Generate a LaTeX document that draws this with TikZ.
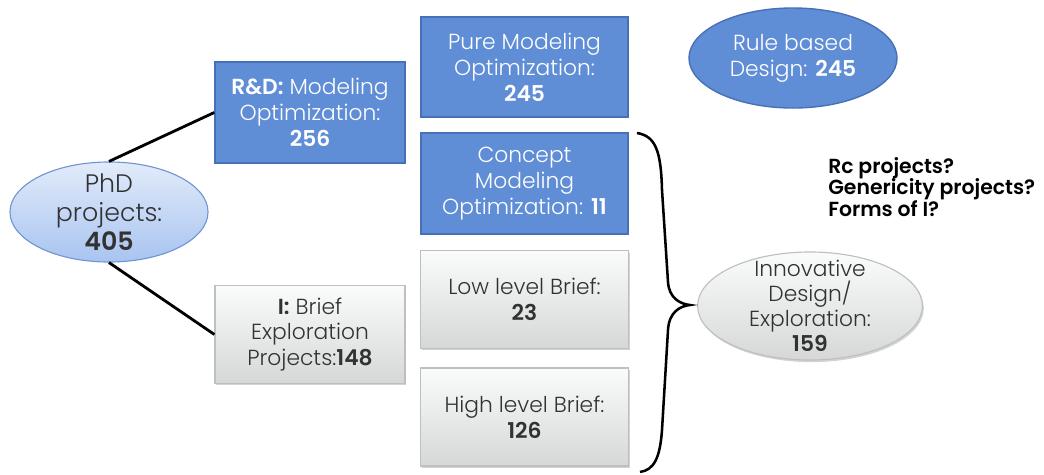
\documentclass[tikz,border=0pt]{standalone}
\usepackage{fontspec}
\setmainfont{Poppins}[UprightFont={* Light}, BoldFont={* SemiBold}]
\usetikzlibrary{shapes.geometric,shadows}

\definecolor{boxblue}{RGB}{96,142,214}
\definecolor{boxblueedge}{RGB}{72,112,182}
\definecolor{ovaltop}{RGB}{226,235,250}
\definecolor{ovalbot}{RGB}{168,196,240}
\definecolor{ovaledge}{RGB}{112,150,210}
\definecolor{greytop}{RGB}{250,251,251}
\definecolor{greybot}{RGB}{214,216,216}
\definecolor{greyedge}{RGB}{190,192,192}
\definecolor{darktext}{RGB}{50,50,50}

\begin{document}
\begin{tikzpicture}[
  x=0.025cm, y=-0.025cm,
  bluebox/.style={
    draw=boxblueedge, line width=1pt, fill=boxblue, rectangle,
    text=white, align=center, inner sep=0pt,
    font=\fontsize{15.5}{18.4}\selectfont
  },
  greybox/.style={
    draw=greyedge, line width=0.8pt, rectangle,
    top color=greytop, bottom color=greybot,
    drop shadow={shadow xshift=1pt, shadow yshift=-1.5pt, opacity=0.35},
    text=darktext, align=center, inner sep=0pt,
    font=\fontsize{15.5}{18.4}\selectfont
  },
  blueoval/.style={
    draw=boxblueedge, line width=1pt, fill=boxblue, ellipse,
    text=white, align=center, inner sep=-10pt,
    font=\fontsize{15.5}{18.4}\selectfont
  },
  greyoval/.style={
    draw=greyedge, line width=0.8pt, ellipse,
    top color=greytop, bottom color=greybot,
    drop shadow={shadow xshift=1pt, shadow yshift=-1.5pt, opacity=0.35},
    text=darktext, align=center, inner sep=-10pt,
    font=\fontsize{15.5}{17.8}\selectfont
  },
  phdoval/.style={
    draw=ovaledge, line width=0.8pt, ellipse,
    top color=ovaltop, bottom color=ovalbot,
    text=darktext, align=center, inner sep=-10pt,
    font=\fontsize{18}{20.6}\selectfont
  },
  link/.style={line width=2pt, black},
  bracket/.style={line width=1.8pt, black},
]
\useasboundingbox (0,0) rectangle (1044,474);
\node[phdoval, minimum width=4.95cm, minimum height=2.5cm] (phd) at (109,212)
  {PhD\\projects:\\\textbf{405}};
\node[bluebox, minimum width=4.75cm, minimum height=2.52cm] (rnd) at (310,112.5)
  {\textbf{R\&D:} Modeling\\Optimization:\\\textbf{256}};
\node[greybox, minimum width=4.75cm, minimum height=2.43cm] (brief) at (310,334.5)
  {\textbf{I:} Brief\\Exploration\\Projects:\textbf{148}};
\node[bluebox, minimum width=5.18cm, minimum height=2.5cm] (pure) at (524.5,67)
  {Pure Modeling\\Optimization:\\\textbf{245}};
\node[bluebox, minimum width=5.18cm, minimum height=2.52cm] (concept) at (524.5,183.5)
  {Concept\\Modeling\\Optimization: \textbf{11}};
\node[greybox, minimum width=5.18cm, minimum height=2.43cm] (low) at (524.5,299.5)
  {Low level Brief:\\\textbf{23}};
\node[greybox, minimum width=5.18cm, minimum height=2.45cm] (high) at (524.5,417)
  {High level Brief:\\\textbf{126}};
\node[blueoval, minimum width=5.2cm, minimum height=2.5cm] (rule) at (793,58)
  {Rule based\\Design: \textbf{245}};
\node[greyoval, minimum width=5.62cm, minimum height=2.7cm] (innov) at (810,306)
  {Innovative\\Design/\\Exploration:\\\textbf{159}};
\node[anchor=west, align=left, inner sep=0pt, font=\fontsize{14.5}{15.4}\selectfont\bfseries]
  (quest) at (828,187) {Rc projects?\\Genericity projects?\\Forms of I?};
% connectors
\draw[link] (phd.north) -- (rnd.west);
\draw[link] (phd.south) -- (brief.west);
% brace grouping the lower column
\coordinate (btop) at (637,133);
\coordinate (btip) at (690,305);
\coordinate (bbot) at (640,472);
\draw[bracket] (btop) .. controls (656,136) and (661,152) .. (662,190)
  -- (668,282) .. controls (669,298) and (680,304) .. (btip)
  .. controls (680,306) and (669,312) .. (668,330)
  -- (662,430) .. controls (660,458) and (654,470) .. (bbot);
\end{tikzpicture}
\end{document}
